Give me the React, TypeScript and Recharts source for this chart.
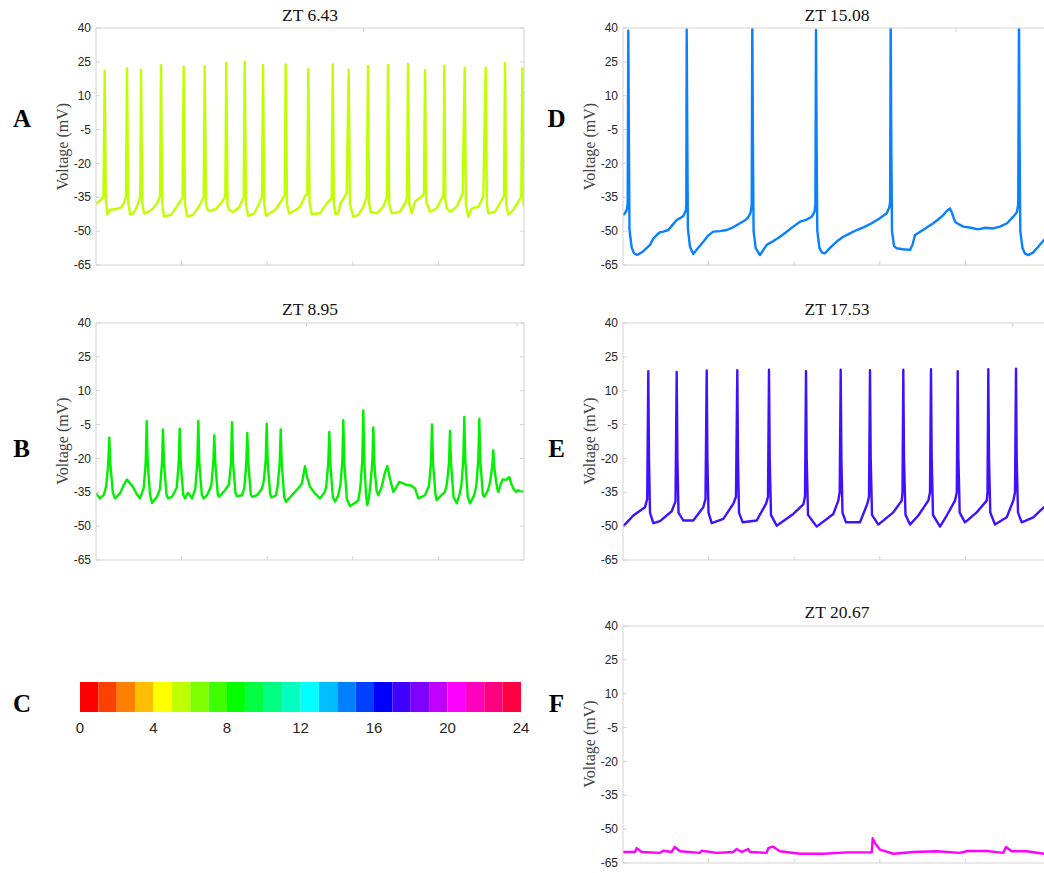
import { LineChart, Line, XAxis, YAxis, BarChart, Bar } from 'recharts';

// Membrane potential traces. Time is in screen samples across the sweep (0..428),
// voltage in mV. Spike tips above 40 mV are clipped by the axis limits.
type Pt = [number, number];

const V_TICKS = [-65, -50, -35, -20, -5, 10, 25, 40];
const T_SPAN = 428;
const T_TICKS = [85.6, 171.2, 256.8, 342.4];

const TRACE_A: Pt[] = [
  [0, -38.0], [4, -36.5], [7.5, -34.5], [8.7, 21.1], [9.8, -36.0], [11.5, -42.5], [14, -40.5], [20, -40.2], [25, -39.5], [28, -37.5], [30, -34.5],
  [31, 22.1], [32.2, -37.0], [34, -42.5], [37, -42.3], [40, -40.0], [43, -36.5], [44.3, -34.5],
  [45, 21.4], [46.2, -37.0], [48, -42.2], [52, -41.5], [57, -40.0], [61, -37.5], [64, -34.5],
  [65, 23.5], [66.2, -38.0], [68, -43.5], [75, -42.8], [81, -39.0], [86.5, -35.0],
  [87.7, 22.9], [89, -38.0], [91, -43.5], [97, -42.8], [103, -39.0], [107.7, -35.0],
  [108.7, 23.0], [110, -38.0], [111.5, -40.5], [114, -41.0], [120, -40.2], [126, -37.0], [129.3, -34.5],
  [130.3, 24.6], [131.5, -38.0], [133, -40.5], [137, -41.5], [143, -39.5], [147.7, -35.0],
  [148.7, 25.1], [150, -38.0], [152, -43.2], [158, -42.2], [163, -38.0], [166, -34.5],
  [167, 23.5], [168.3, -38.0], [170, -43.2], [180, -40.3], [186, -36.0], [188.7, -34.0],
  [189.7, 23.9], [191, -38.0], [193, -42.2], [200, -40.5], [204, -39.2], [209, -34.5], [211.3, -33.5],
  [212.3, 21.7], [213.5, -37.0], [215.7, -42.5], [224, -42.1], [230.7, -37.7], [235.7, -35.4],
  [236.7, 23.9], [237.9, -38.0], [239.5, -42.5], [242.3, -42.0], [244.5, -37.7], [250.7, -33.2],
  [252.7, 21.5], [253.9, -38.0], [257.3, -43.6], [262.3, -42.8], [267.3, -39.2], [270.7, -34.7],
  [272, 23.2], [273, -37.0], [274.5, -41.4], [280.7, -42.1], [287.3, -39.2], [291, -34.7],
  [292, 23.6], [293.2, -38.0], [295.7, -42.1], [304, -41.4], [310, -36.9], [311, -34.5],
  [312, 24.1], [313.2, -38.0], [315.7, -42.1], [319, -36.9], [325.7, -34.7], [328, -33.2],
  [329, 21.3], [330.2, -37.0], [334, -41.4], [340.7, -39.9], [346.7, -34.7], [347.5, -33.5],
  [348.3, 23.3], [349.3, -36.0], [350.7, -39.9], [354, -41.4], [360.7, -39.2], [366.7, -33.2],
  [368.7, 22.4], [369.9, -38.0], [372.3, -43.6], [375.7, -39.9], [382.3, -39.2], [387.3, -34.7],
  [389.7, 22.4], [390.9, -38.0], [392.3, -42.1], [399, -41.4], [405.7, -36.2], [408, -34.5],
  [409, 24.5], [410.2, -38.0], [412.3, -42.8], [417.3, -40.6], [423.3, -36.2], [425.3, -34.5],
  [426.3, 22.1], [427.3, -36.0], [428, -39.2],
];

const TRACE_B: Pt[] = [
  [0, -35.5], [4, -37.7], [8, -36.0], [10.3, -32.0], [12.3, -22.0], [13.3, -10.8], [14.3, -22.0], [16.8, -35.0], [19, -37.7], [24, -35.5], [28, -31.5], [31, -29.3], [34, -31.0], [37, -32.6], [41, -36.0], [44, -37.7],
  [47.7, -33.0], [49.7, -22.0], [50.7, -3.4], [51.7, -22.0], [54, -36.0], [56, -39.7], [61, -37.0],
  [64, -33.5], [66, -22.0], [67, -7.2], [68, -22.0], [70.5, -36.0], [72, -37.7], [76, -37.0],
  [80.7, -33.0], [82.7, -22.0], [83.7, -6.8], [84.7, -22.0], [87.2, -36.0], [89, -37.7], [92, -35.2], [96, -37.7],
  [99.3, -33.5], [101.3, -22.0], [102.3, -3.4], [103.3, -22.0], [105.8, -36.0], [107.5, -37.7], [111, -36.3],
  [115.3, -32.0], [117.3, -22.0], [118.3, -9.7], [119.3, -22.0], [121.8, -36.0], [123, -37.0], [129, -34.1],
  [133, -31.5], [135, -22.0], [136, -3.9], [137, -22.0], [139.5, -35.5], [141, -36.7], [146, -36.3],
  [148.3, -33.0], [150.3, -22.0], [151.3, -8.7], [152.3, -22.0], [154.8, -36.0], [156, -37.0], [161, -36.3], [166, -33.3],
  [167.7, -30.0], [169.7, -21.0], [170.7, -4.6], [171.7, -22.0], [174.2, -36.0], [175.5, -37.3], [180, -36.3],
  [181.7, -32.0], [183.7, -22.0], [184.7, -7.2], [185.7, -22.0], [188.2, -37.0], [190, -39.2], [196, -36.3], [204, -32.3], [206, -31.0], [209, -23.4], [211, -28.0], [214, -32.6], [219, -35.5], [224, -37.7], [229, -34.8],
  [230.3, -32.0], [232.3, -22.0], [233.3, -8.3], [234.3, -22.0], [236.8, -37.0], [239, -39.2], [242, -36.5],
  [244.3, -32.0], [246.3, -22.0], [247.3, -3.1], [248.3, -22.0], [250.8, -38.0], [254, -41.1], [258, -40.0], [262.3, -38.5],
  [264.3, -33.0], [266.3, -21.0], [267.3, 1.3], [268.3, -21.0], [270, -36.0], [271.3, -40.7], [273, -37.0],
  [274.3, -32.0], [276.3, -22.0], [277.3, -6.3], [278.3, -22.0], [280.5, -34.0], [282.3, -36.3], [285.7, -32.6], [288.5, -27.0], [291.3, -23.4], [294, -29.0], [297.3, -34.8], [300, -33.0], [303.3, -30.4], [307, -31.0], [310.7, -31.8], [315, -32.0], [319, -33.3], [322.3, -37.7], [329, -36.3],
  [333, -32.0], [335, -22.0], [336, -4.9], [337, -22.0], [339.5, -36.0], [340.7, -38.5], [345, -36.5], [349, -34.8],
  [351, -31.0], [353, -22.0], [354, -7.8], [355, -22.0], [357.5, -37.0], [360.7, -39.9], [363.5, -36.0],
  [365.3, -32.0], [367.3, -21.0], [368.3, -1.6], [369.3, -21.0], [371.8, -37.0], [374, -39.9], [378, -36.5],
  [380.3, -32.0], [382.3, -21.0], [383.3, -2.4], [384.3, -21.0], [386.8, -36.0], [388.5, -37.0], [392, -34.0],
  [394.3, -30.0], [396.3, -23.0], [397.3, -16.4], [398.3, -24.0], [401, -33.0], [402.3, -34.8], [405, -31.0], [406.7, -29.3], [410, -29.5], [413.3, -28.2], [415.5, -31.5], [417.3, -33.3], [420, -34.8], [422.3, -34.1], [425, -34.8], [428, -34.5],
];

const TRACE_D: Pt[] = [
  [0, -42.9], [2, -42.0], [3.7, -40.6], [4.7, -37.5], [5.3, 38.8], [5.9, -10.0], [6.5, -49.5], [8.7, -57.3], [11, -59.8], [14.3, -60.6], [20, -59.0], [27, -56.1], [30, -53.5], [33.7, -51.7], [37, -50.5], [40.3, -50.2], [45.3, -49.5], [50, -47.0], [53.7, -45.1], [58, -44.0], [60.3, -43.3], [62.8, -41.0], [63.3, -38.0],
  [63.7, 39.4], [64.3, -10.0], [64.9, -49.0], [67, -57.0], [70.3, -60.1], [75, -57.5], [80.3, -54.7], [85, -52.0], [90.3, -50.2], [97, -50.0], [103.7, -49.5], [110, -48.3], [117, -46.5], [122, -45.2], [125, -44.0], [127.5, -42.0], [128.7, -38.5],
  [129.3, 44.0], [129.9, -10.0], [130.6, -50.0], [132.7, -57.5], [137, -60.6], [140, -58.5], [143.7, -56.1], [150, -54.5], [157, -52.5], [163, -50.5], [170.3, -48.0], [177, -45.8], [183, -45.0], [188.7, -43.6], [191.5, -41.5], [192.4, -38.0],
  [193, 39.1], [193.6, -10.0], [194.3, -50.0], [196.5, -57.5], [199, -59.5], [202, -59.8], [208, -57.0], [214, -54.5], [220.3, -52.5], [227, -51.0], [233.7, -49.5], [241, -48.2], [248.7, -46.5], [256, -44.5], [263.7, -42.1], [266.3, -39.5], [267.1, -37.0],
  [267.7, 45.0], [268.3, -10.0], [269, -50.0], [271, -56.5], [273.7, -57.6], [280, -58.0], [287, -58.3], [289.5, -56.0], [292, -51.7], [300, -49.5], [310.3, -46.5], [316, -44.5], [320, -43.0], [324, -41.0], [327, -39.9], [329, -42.0], [332, -45.8], [336, -47.0], [340.3, -48.0], [348, -48.5], [355.3, -49.2], [362, -48.5], [370, -48.8], [377, -48.0], [384, -46.5], [390.3, -43.6], [394, -41.5], [395.2, -38.0],
  [396, 45.0], [396.6, -10.0], [397.3, -50.0], [399.5, -57.5], [402, -60.0], [405.3, -60.6], [410, -59.5], [415, -57.0], [421, -53.9], [428, -51.0],
];

const TRACE_E: Pt[] = [
  [0, -50.2], [10.3, -45.3], [22, -41.6], [24.2, -38.0], [25.3, 18.7], [26, -20.0], [27, -44.0], [30.3, -48.7], [37, -47.8], [48.7, -43.4], [52.5, -39.0],
  [53.7, 18.3], [54.4, -20.0], [55.5, -44.0], [60.3, -47.5], [70.3, -47.5], [80.3, -41.6], [82.5, -38.0],
  [83.7, 19.0], [84.4, -20.0], [85.5, -44.0], [88.7, -48.7], [100.3, -46.8], [110.3, -40.1], [113, -37.0],
  [114.3, 19.1], [115, -20.0], [116, -44.0], [119.7, -48.3], [133.7, -47.5], [143, -40.1], [145, -37.0],
  [146, 19.3], [146.7, -20.0], [148, -45.0], [153.7, -49.8], [170.3, -44.6], [180.3, -40.4], [182, -37.0],
  [183, 18.7], [183.7, -20.0], [185, -45.0], [193.7, -50.2], [210.3, -44.6], [215.3, -38.7], [216.7, -35.0],
  [217.7, 19.3], [218.4, -20.0], [219.5, -44.0], [223, -48.3], [237, -48.3], [244.3, -40.1], [246, -37.0],
  [247, 19.1], [247.7, -20.0], [249, -45.0], [255.3, -49.3], [270.3, -43.9], [278.7, -38.7], [279.5, -35.0],
  [280.3, 19.3], [281, -20.0], [282.5, -45.0], [287, -49.3], [295.3, -45.3], [305.3, -38.7], [307, -35.0],
  [308, 19.5], [308.7, -20.0], [310, -45.0], [317, -50.2], [323.7, -45.3], [332, -38.7], [333.8, -35.0],
  [334.7, 18.7], [335.4, -20.0], [336.7, -44.0], [342, -48.3], [353.7, -43.9], [363.7, -38.7], [364.5, -35.0],
  [365.3, 19.5], [366, -20.0], [367.3, -44.0], [372, -49.3], [383.7, -46.1], [390.3, -38.7], [392, -35.0],
  [393, 19.8], [393.7, -20.0], [395, -44.0], [398.7, -48.3], [410.3, -46.1], [420.3, -41.9], [428, -40.0],
];

const TRACE_F: Pt[] = [
  [0, -60.1], [12, -60.1], [13.7, -58.4], [18.7, -60.1], [37, -60.5], [40.3, -59.6], [48.7, -60.1], [51.7, -57.9], [57, -59.8], [77, -60.5], [78.7, -59.6], [93.7, -60.5], [110.3, -60.1], [113.7, -58.8], [118.7, -60.1], [125.3, -58.8], [127, -60.1], [143.7, -60.5], [145.3, -58.4], [149.7, -57.7], [157, -59.8], [177, -60.9], [200.3, -60.9], [223.7, -60.3], [248.7, -60.3],
  [249.7, -54.0], [252, -56.2], [257, -59.1], [270.3, -60.9], [290.3, -60.1], [313.7, -59.8], [337, -60.5], [344.3, -59.7], [363.7, -59.7], [380.3, -60.5], [383, -57.9], [388.7, -59.8], [403.7, -59.8], [421, -60.9], [428, -60.5],
];

// ZT colour scale: one block per hour
const ZT_HOURS = [0, 1, 2, 3, 4, 5, 6, 7, 8, 9, 10, 11, 12, 13, 14, 15, 16, 17, 18, 19, 20, 21, 22, 23];
const ZT_COLORS = [
  '#ff0000', '#ff4000', '#ff8000', '#ffbf00', '#ffff00', '#bfff00', '#80ff00', '#40ff00',
  '#00ff00', '#00ff40', '#00ff80', '#00ffbf', '#00ffff', '#00bfff', '#0080ff', '#0040ff',
  '#0000ff', '#4000ff', '#8000ff', '#bf00ff', '#ff00ff', '#ff00bf', '#ff0080', '#ff0040',
];
const ZT_TICKS = [0, 4, 8, 12, 16, 20, 24];

const AXIS = '#d2d2d2';
const INK = '#262626';
const SANS = '"Liberation Sans", Arial, sans-serif';
const SERIF = '"Liberation Serif", "Times New Roman", serif';
const TICK = 4;

const PLOT_W = 428;
const PLOT_H = 237;
// space around the plot box; the axes themselves are 1px thick
const PAD = { top: 6, right: 6, bottom: 6, left: 44 };

const BottomTick = ({ x, y }: any) => <line x1={x} y1={y} x2={x} y2={y - TICK} stroke={AXIS} />;
const TopTick = ({ x, y }: any) => <line x1={x} y1={y} x2={x} y2={y + TICK} stroke={AXIS} />;
const RightTick = ({ x, y }: any) => <line x1={x} y1={y} x2={x - TICK} y2={y} stroke={AXIS} />;
const LeftTick = ({ x, y, payload }: any) => (
  <g>
    <line x1={x} y1={y} x2={x + TICK} y2={y} stroke={AXIS} />
    <text x={x - 5} y={y} dy="0.35em" textAnchor="end" fontSize={12} fontFamily={SANS} fill={INK}>
      {payload.value}
    </text>
  </g>
);

interface PanelProps {
  x: number;
  y: number;
  trace: Pt[];
  color: string;
}

function Panel({ x, y, trace, color }: PanelProps) {
  const data = trace.map(([t, v]) => ({ t, v }));
  const common = { tickSize: 0, tickMargin: 0, tickLine: false, interval: 0 as const, allowDataOverflow: true };
  const margin = { top: PAD.top - 1, right: PAD.right - 1, bottom: PAD.bottom - 1, left: PAD.left - 1 };
  return (
    <div style={{ position: 'absolute', left: x - PAD.left, top: y - PAD.top }}>
      <LineChart width={PLOT_W + PAD.left + PAD.right} height={PLOT_H + PAD.top + PAD.bottom} data={data} margin={margin}>
        <XAxis xAxisId="b" dataKey="t" type="number" domain={[0, T_SPAN]} ticks={T_TICKS} height={1}
          axisLine={{ stroke: AXIS }} tick={BottomTick} {...common} />
        <XAxis xAxisId="t" orientation="top" type="number" domain={[0, T_SPAN]} ticks={T_TICKS} height={1}
          axisLine={{ stroke: AXIS }} tick={TopTick} {...common} />
        <YAxis yAxisId="l" type="number" domain={[-65, 40]} ticks={V_TICKS} width={1}
          axisLine={{ stroke: AXIS }} tick={LeftTick} {...common} />
        <YAxis yAxisId="r" orientation="right" type="number" domain={[-65, 40]} ticks={V_TICKS} width={1}
          axisLine={{ stroke: AXIS }} tick={RightTick} {...common} />
        <Line xAxisId="b" yAxisId="l" dataKey="v" type="linear" stroke={color} strokeWidth={2.4}
          strokeLinejoin="round" dot={false} activeDot={false} isAnimationActive={false} />
      </LineChart>
    </div>
  );
}

const PANELS = [
  { key: 'A', x: 96, y: 28, trace: TRACE_A, color: '#bfff00', title: 'ZT 6.43' },
  { key: 'B', x: 96, y: 322.5, trace: TRACE_B, color: '#00f000', title: 'ZT 8.95' },
  { key: 'D', x: 623, y: 28, trace: TRACE_D, color: '#0a80ff', title: 'ZT 15.08' },
  { key: 'E', x: 623, y: 322.5, trace: TRACE_E, color: '#4010ff', title: 'ZT 17.53' },
  { key: 'F', x: 623, y: 625.5, trace: TRACE_F, color: '#ff00ff', title: 'ZT 20.67' },
];

const LETTERS = [
  { text: 'A', x: 22, y: 127 },
  { text: 'B', x: 21.5, y: 456.5 },
  { text: 'C', x: 22, y: 712 },
  { text: 'D', x: 556.5, y: 127 },
  { text: 'E', x: 556.5, y: 456.5 },
  { text: 'F', x: 556.5, y: 712 },
];

const BAR_W = 441;

// the colour scale is one horizontal stack of 24 one-hour segments
function ColorBar() {
  const row: Record<string, number | string> = { name: 'ZT' };
  ZT_HOURS.forEach((h) => {
    row[`h${h}`] = 1;
  });
  return (
    <div style={{ position: 'absolute', left: 60, top: 682 }}>
      <BarChart layout="vertical" width={BAR_W + 40} height={60} data={[row]}
        margin={{ top: 0, right: 20, bottom: 0, left: 20 }} barCategoryGap={0} barGap={0}>
        <XAxis type="number" domain={[0, 24]} allowDataOverflow ticks={ZT_TICKS} interval={0} height={30}
          axisLine={false} tickLine={false} tickSize={0} tickMargin={10}
          tick={{ fontSize: 15, fill: INK, fontFamily: SANS }} />
        <YAxis type="category" dataKey="name" hide width={0} />
        {ZT_HOURS.map((h) => (
          <Bar key={h} dataKey={`h${h}`} stackId="zt" fill={ZT_COLORS[h]} isAnimationActive={false} />
        ))}
      </BarChart>
    </div>
  );
}

export default function App() {
  return (
    <div style={{ position: 'absolute', left: 0, top: 0, width: 1044, height: 873, overflow: 'hidden', background: '#fff' }}>
      {PANELS.map((p) => (
        <Panel key={p.key} x={p.x} y={p.y} trace={p.trace} color={p.color} />
      ))}
      <ColorBar />
      <svg width={1044} height={873} style={{ position: 'absolute', left: 0, top: 0, pointerEvents: 'none' }}>
        {PANELS.map((p) => (
          <g key={p.key}>
            <text x={p.x + PLOT_W / 2} y={p.y - 7.3} textAnchor="middle" fontFamily={SERIF} fontSize={17.5} fill="#111">
              {p.title}
            </text>
            <text
              x={p.x < 300 ? 68.3 : 594.5}
              y={p.y + PLOT_H / 2}
              transform={`rotate(-90 ${p.x < 300 ? 68.3 : 594.5} ${p.y + PLOT_H / 2})`}
              textAnchor="middle"
              fontFamily={SERIF}
              fontSize={16}
              fill="#444"
            >
              Voltage (mV)
            </text>
          </g>
        ))}
        {LETTERS.map((l) => (
          <text key={l.text} x={l.x} y={l.y} textAnchor="middle" fontFamily={SERIF} fontWeight="bold" fontSize={25} fill="#000">
            {l.text}
          </text>
        ))}
      </svg>
    </div>
  );
}
